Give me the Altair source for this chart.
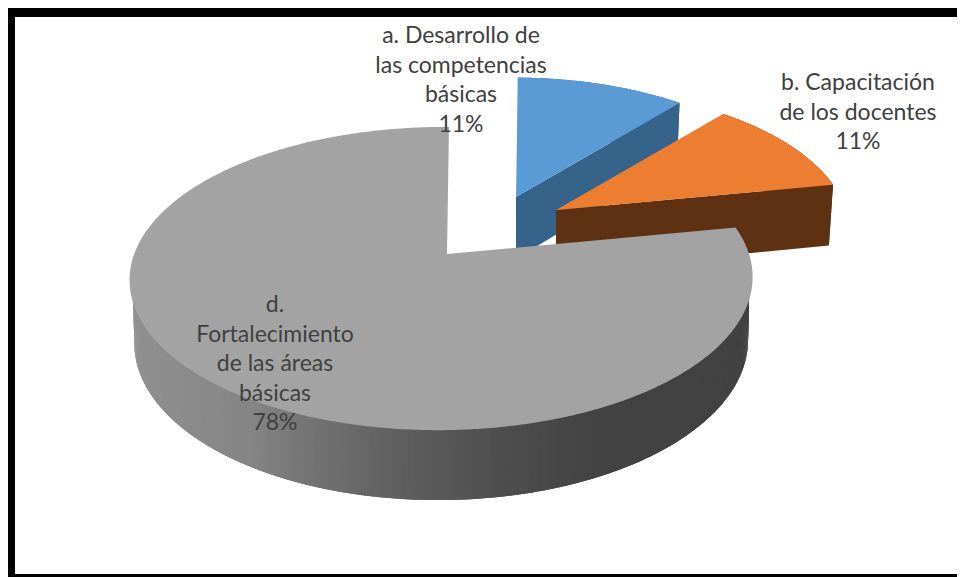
import math
import numpy as np
import altair as alt

# --- values
categories = ["a. Desarrollo de las competencias básicas", "b. Capacitación de los docentes", "d. Fortalecimiento de las áreas básicas"]
shares = [11, 11, 78]
top_colors = ["#5b9bd5", "#ed7d31", "#a3a3a3"]
wall_colors = ["#356389", "#5f3113", "#424242"]
label_a = ["a. Desarrollo de", "las competencias", "básicas", "11%"]
label_b = ["b. Capacitación", "de los docentes", "11%"]
label_d = ["d.", "Fortalecimiento", "de las áreas", "básicas", "78%"]

# --- drawing geometry (screen pixels of the 3-D pie)
apexes = [(516, 197), (556, 210), (447, 254)]
radius_scale = [0.94, 0.96, 1.0]
A, B, K, M, SHEAR = 307.3, 147.6, 0.162, 0.0175, 2.3
DEPTH, BOTTOM_SX, BOTTOM_SY = 62, 0.985, 1.045
RIM_LIMIT = 285
rim_x = [130, 250, 300, 400, 500, 600, 753]
rim_grey = [145, 133, 118, 95, 78, 67, 66]


def project(theta_deg, apex, scale, bottom=False):
    t = math.radians(theta_deg)
    u, v = math.sin(t), math.cos(t)
    w = 1 + K * v + M * u
    dx = (A * u + SHEAR * v) / w * scale
    dy = -B * v / w * scale
    if bottom:
        return [apex[0] + dx * BOTTOM_SX, apex[1] + DEPTH + dy * BOTTOM_SY]
    return [apex[0] + dx, apex[1] + dy]


def feature(ring, color):
    return {"type": "Feature",
            "geometry": {"type": "Polygon", "coordinates": [ring + [ring[0]]]},
            "properties": {"color": color}}


def rect(x0, y0, x1, y1):
    return feature([[x0, y0], [x1, y0], [x1, y1], [x0, y1]], "#000000")


ordered = []
start = 0.0
for share, apex, scale, top, wall in zip(shares, apexes, radius_scale, top_colors, wall_colors):
    end = start + share * 3.6
    thetas = list(np.arange(start, end, 0.5)) + [end]
    small = share < 50
    if small:  # exploded small slices show their radial wall
        ordered.append(feature([list(apex), project(end, apex, scale),
                                project(end, apex, scale, True),
                                [apex[0], apex[1] + DEPTH]], wall))
        ordered.append(feature([project(t, apex, scale) for t in thetas] +
                               [project(t, apex, scale, True) for t in reversed(thetas)], wall))
    else:
        for t0, t1 in zip(thetas[:-1], thetas[1:]):
            if t0 > RIM_LIMIT:
                continue
            inner = scale * 0.99
            p0, p1 = project(t0, apex, inner), project(t1 + 0.6, apex, inner)
            g = int(np.interp((p0[0] + p1[0]) / 2, rim_x, rim_grey))
            c = f"#{g:02x}{g:02x}{g:02x}"
            ordered.append(feature([p0, p1, project(t1 + 0.6, apex, scale, True),
                                    project(t0, apex, scale, True)], c))
    ordered.append(feature([list(apex)] + [project(t, apex, scale) for t in thetas], top))
    start = end

ordered += [rect(0, 7, 975, 17), rect(0, 7, 15, 590), rect(0, 574, 975, 590)]

rows = []
for lines, x, y0 in ((label_a, 461, 36), (label_b, 858, 83), (label_d, 275, 305)):
    for i, line in enumerate(lines):
        rows.append({"text": line, "lon": x, "lat": y0 + i * 29.6})

proj = dict(type="identity", scale=1, translate=[-8, -8])

shapes = alt.Chart(alt.Data(values=ordered)).mark_geoshape(stroke=None).encode(
    fill=alt.Fill("properties.color:N", scale=None),
).project(**proj)

texts = alt.Chart(alt.Data(values=rows)).mark_text(
    font="Lato", fontSize=23, color="#404040", align="center", baseline="middle"
).encode(longitude="lon:Q", latitude="lat:Q", text="text:N").project(**proj)

chart = alt.layer(shapes, texts).properties(
    width=949, height=569, padding=0, background="#ffffff", autosize=alt.AutoSizeParams(type="none")
).configure_view(stroke=None)

chart.save("out.html", embed_options={"renderer": "svg", "actions": False})
